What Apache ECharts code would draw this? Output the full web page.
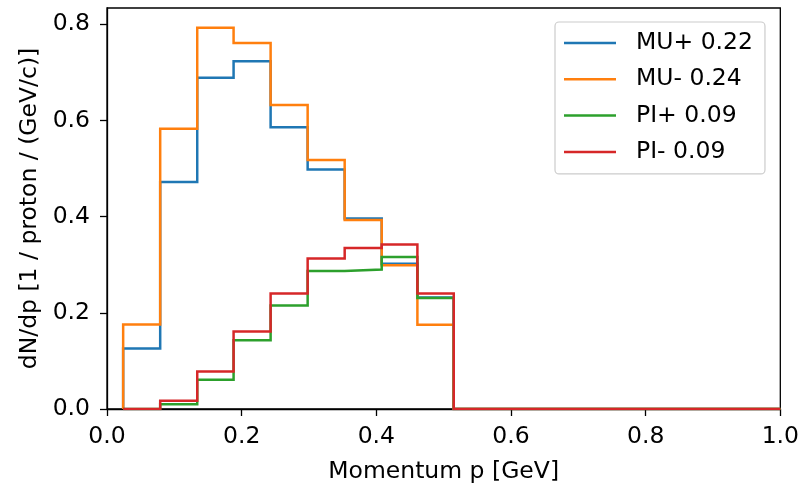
<!DOCTYPE html>
<html>
<head>
<meta charset="utf-8">
<script src="https://cdn.jsdelivr.net/npm/echarts@6/dist/echarts.min.js"></script>
<style>
  html, body { margin: 0; padding: 0; background: #fff; }
  #chart { width: 802px; height: 489px; }
</style>
</head>
<body>
<div id="chart"></div>
<script>
// bin edges (GeV) and per-bin heights
var binEdges = [0.024, 0.079, 0.134, 0.188, 0.243, 0.298, 0.353, 0.408, 0.461, 0.515, 1.0];
var muPlus  = [0.126, 0.472, 0.689, 0.723, 0.586, 0.498, 0.396, 0.302, 0.232, 0];
var muMinus = [0.176, 0.583, 0.793, 0.761, 0.632, 0.518, 0.393, 0.299, 0.175, 0];
var piPlus  = [0, 0.010, 0.061, 0.143, 0.215, 0.287, 0.290, 0.316, 0.231, 0];
var piMinus = [0, 0.017, 0.078, 0.161, 0.240, 0.313, 0.335, 0.342, 0.240, 0];

var seriesNames = ["MU+ 0.22", "MU- 0.24", "PI+ 0.09", "PI- 0.09"];
var seriesColors = ["#1f77b4", "#ff7f0e", "#2ca02c", "#d62728"];
var xTicks = [0, 0.2, 0.4, 0.6, 0.8, 1.0];
var yTicks = [0, 0.2, 0.4, 0.6, 0.8];

var FONT = "DejaVu Sans";
var FS = 23.5;

// step outline like matplotlib histtype='step'
function stepPoints(edges, vals) {
  var pts = [[edges[0], 0]];
  for (var i = 0; i < vals.length; i++) {
    pts.push([edges[i], vals[i]]);
    pts.push([edges[i + 1], vals[i]]);
  }
  pts.push([edges[edges.length - 1], 0]);
  return pts;
}

var allData = [muPlus, muMinus, piPlus, piMinus];
var series = allData.map(function (vals, i) {
  return {
    name: seriesNames[i],
    type: "line",
    data: stepPoints(binEdges, vals),
    symbol: "none",
    color: seriesColors[i],
    lineStyle: { width: 2.5, color: seriesColors[i], join: "miter" },
    animation: false
  };
});

var chart = echarts.init(document.getElementById("chart"));
chart.setOption({
  backgroundColor: "#fff",
  animation: false,
  grid: {
    left: 107, right: 21, top: 8, bottom: 78,
    show: true, borderColor: "#000", borderWidth: 1.3, containLabel: false
  },
  legend: {
    orient: "vertical",
    left: 555, top: 22,
    data: seriesNames,
    icon: "rect",
    itemWidth: 52, itemHeight: 2.5,
    itemGap: 12.3,
    padding: [9, 12, 10, 9],
    borderColor: "#cccccc", borderWidth: 1.2, borderRadius: 4,
    backgroundColor: "rgba(255,255,255,0.8)",
    textStyle: { fontFamily: FONT, fontSize: FS, color: "#000", padding: [0, 0, 0, 15], lineHeight: 24 }
  },
  xAxis: {
    type: "value", min: 0, max: 1.0, interval: 0.2,
    name: "Momentum p [GeV]", nameLocation: "middle", nameGap: 51,
    nameTextStyle: { fontFamily: FONT, fontSize: FS, color: "#000" },
    axisLine: { show: true, onZero: false, lineStyle: { color: "#000", width: 1.3 } },
    axisTick: { show: true, inside: false, length: 7, lineStyle: { color: "#000", width: 1.3 } },
    axisLabel: {
      fontFamily: FONT, fontSize: FS, color: "#000", margin: 16,
      customValues: xTicks,
      formatter: function (v) { return v.toFixed(1); }
    },
    splitLine: { show: false }
  },
  yAxis: {
    type: "value", min: 0, max: 0.834,
    name: "dN/dp [1 / proton / (GeV/c)]", nameLocation: "middle", nameGap: 62,
    nameTextStyle: { fontFamily: FONT, fontSize: FS, color: "#000" },
    axisLine: { show: true, onZero: false, lineStyle: { color: "#000", width: 1.3 } },
    axisTick: { show: true, inside: false, length: 7, customValues: yTicks, lineStyle: { color: "#000", width: 1.3 } },
    axisLabel: {
      fontFamily: FONT, fontSize: FS, color: "#000", margin: 17,
      customValues: yTicks,
      formatter: function (v) { return v.toFixed(1); }
    },
    splitLine: { show: false }
  },
  series: series
});
</script>
</body>
</html>
